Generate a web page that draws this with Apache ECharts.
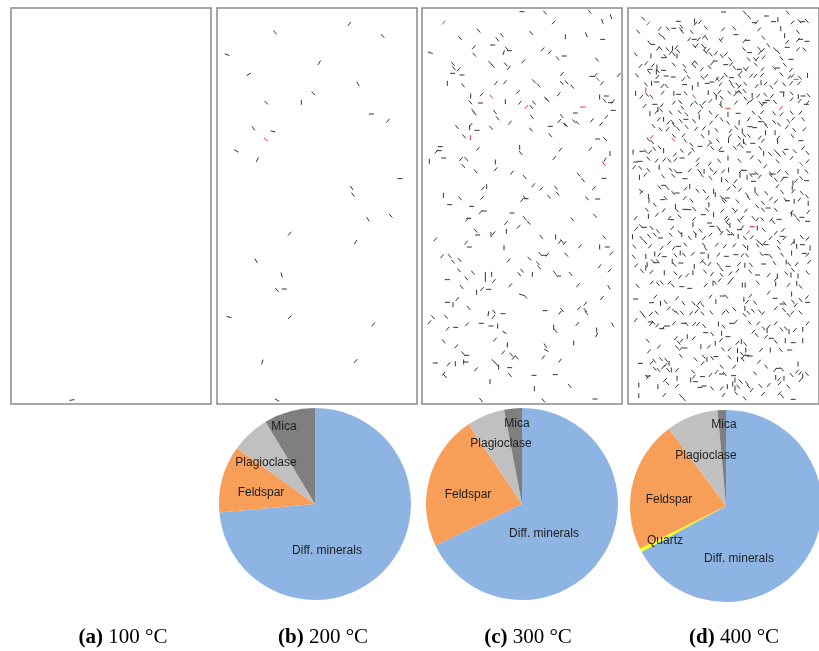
<!DOCTYPE html>
<html><head><meta charset="utf-8">
<script src="https://cdn.jsdelivr.net/npm/echarts@6/dist/echarts.min.js"></script>
<style>html,body{margin:0;padding:0;background:#fff}#c{width:819px;height:651px}</style>
</head><body><div id="c"></div>
<script>
// Crack data per specimen panel: [x, y, orientation in degrees]; specimen units 0..600 x 0..1188 (y downward)
const cracksA = [[183,1176,10]];
const redA = [];
const cracksB = [[397,48,50],[174,73,-50],[497,84,-50],[30,140,-20],[307,164,60],[95,199,30],[423,228,-60],[289,256,-50],[148,284,-45],[253,283,90],[463,318,0],[513,338,50],[109,361,-55],[168,370,-15],[58,429,-30],[121,455,65],[549,512,0],[404,540,-55],[408,560,-55],[453,634,-55],[521,623,-45],[218,677,50],[416,702,55],[117,758,-60],[194,801,-75],[180,846,-50],[202,843,0],[36,927,-15],[218,928,45],[469,949,50],[136,1062,70],[416,1059,50],[180,1176,-30]];
const redB = [[147,395,-40]];
const cracksC = [[300,11,0],[369,14,-50],[503,11,-50],[395,43,50],[541,40,-70],[567,26,-70],[170,68,-50],[328,75,-50],[114,90,-50],[240,82,-50],[226,94,-50],[430,86,90],[493,80,-70],[542,94,0],[212,111,0],[254,122,-50],[245,134,70],[262,128,0],[155,118,50],[25,134,-20],[157,140,-50],[362,124,50],[383,133,50],[407,151,-50],[427,144,0],[525,155,-50],[304,160,50],[93,168,-50],[96,181,-50],[110,184,50],[205,165,-50],[213,174,-50],[251,169,-50],[260,180,50],[92,196,0],[120,201,0],[76,226,90],[123,232,-50],[222,225,50],[249,223,50],[336,220,-50],[350,232,-50],[420,198,50],[419,225,-50],[434,223,-50],[451,236,-50],[510,205,0],[521,201,50],[590,201,50],[540,226,50],[146,264,90],[179,259,50],[288,252,50],[250,281,90],[145,283,-50],[175,285,0],[294,284,50],[328,297,-50],[336,284,-50],[372,272,-50],[376,276,-50],[410,259,50],[533,267,90],[553,264,0],[548,278,-50],[566,284,0],[573,280,50],[574,307,0],[153,308,-50],[158,316,-50],[219,312,-50],[227,331,-50],[264,344,50],[330,327,-50],[385,355,0],[419,324,-50],[412,339,50],[428,350,-50],[432,351,-50],[460,315,0],[456,340,-50],[466,344,-50],[510,337,50],[553,327,50],[537,348,50],[105,357,-50],[146,351,50],[143,359,90],[165,367,0],[207,359,-50],[327,365,-50],[126,385,-50],[385,382,-50],[527,393,0],[549,393,-50],
[55,416,0],[52,428,0],[43,431,50],[168,422,50],[293,418,90],[296,435,-50],[415,425,50],[505,423,50],[564,437,90],[22,460,90],[65,450,0],[117,453,50],[133,453,-50],[220,462,90],[124,474,-50],[397,450,50],[549,455,60],[161,490,-50],[221,484,50],[270,494,50],[308,507,-50],[470,500,-50],[483,516,-50],[546,511,0],[64,562,90],[183,541,50],[194,536,90],[334,532,50],[358,542,50],[402,539,-50],[407,557,-50],[381,566,-50],[516,540,50],[114,571,-50],[181,569,50],[300,576,50],[308,568,-50],[312,572,0],[83,590,0],[149,595,0],[495,571,-50],[527,573,0],[176,612,50],[187,609,0],[270,615,0],[135,635,50],[140,631,0],[308,630,-50],[320,644,-50],[252,645,50],[290,656,50],[451,634,-50],[519,623,-50],[161,668,-50],[167,681,0],[207,680,90],[215,676,50],[253,670,90],[40,694,50],[132,704,50],[142,717,0],[246,719,90],[358,687,-50],[401,687,90],[413,702,50],[420,700,-50],[428,705,50],[474,715,50],[533,717,90],[547,688,-50],[556,717,0],[568,736,50],[60,745,50],[83,744,-50],[93,761,-50],[113,756,-50],[260,757,50],[322,752,-50],[355,738,-50],[368,742,0],[376,740,50],[348,766,-50],[351,778,-50],[433,740,-50],[533,775,50],[563,787,50],[111,787,-50],[300,788,-50],
[153,794,-50],[133,811,-50],[190,800,90],[209,799,90],[190,814,90],[216,819,50],[292,799,-50],[331,799,90],[398,794,-50],[410,804,0],[446,798,-50],[76,815,0],[119,837,-50],[164,853,90],[180,843,50],[200,844,0],[265,832,50],[298,860,-20],[310,866,-50],[468,832,50],[561,838,-60],[76,883,0],[93,890,90],[106,873,50],[140,900,-50],[199,917,80],[216,911,-50],[214,927,50],[243,917,0],[369,908,0],[414,914,50],[420,906,-50],[471,901,50],[490,887,50],[490,906,-50],[493,915,-50],[540,870,50],[22,943,50],[33,928,-50],[72,926,-50],[77,962,50],[101,958,0],[135,949,50],[178,946,0],[207,954,0],[227,954,90],[247,973,-30],[395,958,90],[401,969,-50],[466,948,50],[524,966,90],[524,981,60],[572,950,-60],[65,1000,-50],[103,1015,50],[219,995,50],[256,1011,90],[370,1013,-60],[373,1027,-30],[455,1005,90],[123,1036,-50],[134,1042,0],[244,1033,50],[268,1040,-50],[275,1049,50],[284,1048,-50],[364,1048,50],[414,1058,50],[40,1065,0],[80,1068,50],[100,1067,90],[125,1062,90],[132,1062,0],[215,1060,-50],[224,1069,-50],[230,1078,90],[162,1084,50],[263,1079,0],[65,1097,50],[69,1104,-50],[264,1101,-50],[336,1102,0],[400,1100,0],[204,1121,90],[337,1142,90],[443,1134,-50],[177,1176,-50],[364,1177,-50],[519,1173,0]];
const redC = [[65,44,50],[528,214,-50],[208,266,-50],[313,297,50],[482,297,0],[145,389,90],[545,467,-50]];
const cracksD = [[300,12,0],[367,14,-50],[380,27,-50],[435,24,0],[471,35,90],[502,14,-50],[48,32,-50],[158,40,0],[209,39,90],[212,47,50],[226,42,50],[168,56,-50],[166,64,-50],[397,44,0],[404,43,50],[457,41,0],[517,43,50],[539,40,-50],[549,41,0],[562,39,-50],[32,71,-50],[100,62,50],[125,62,-50],[144,61,0],[170,71,-50],[200,72,-50],[244,59,-50],[299,64,50],[334,61,-50],[339,80,0],[412,64,50],[480,62,90],[534,72,-50],[101,80,-50],[112,89,-50],[192,94,50],[208,94,0],[222,94,50],[239,86,50],[246,90,-50],[290,97,-50],[294,94,50],[366,99,50],[376,97,0],[425,89,-50],[492,83,90],[500,102,50],[534,96,50],[542,94,0],[562,100,0],[67,104,-50],[78,109,0],[94,122,50],[102,121,-50],[124,124,-50],[140,121,90],[152,118,50],[158,129,-50],[134,134,50],[144,139,-50],[154,144,90],[117,144,-50],[111,149,0],[72,144,90],[24,139,-50],[208,114,-50],[216,112,50],[236,114,-50],[241,122,50],[244,132,-50],[252,127,50],[260,139,-50],[276,136,50],[294,144,-50],[307,139,50],[321,154,-50],[365,124,-50],[382,134,0],[412,122,-50],[414,134,50],[424,126,50],[441,112,-50],[462,124,-50],[472,132,-50],[500,118,0],[534,124,50],[554,124,-50],[379,154,-50],[399,154,-50],[406,152,50],[426,148,50],[482,151,-50],[512,154,0],[39,174,50],[57,166,50],[69,184,0],[66,192,-50],[78,172,50],[91,177,90],[89,192,90],[94,189,-50],[112,187,0],[120,204,0],[144,170,-50],[177,174,-50],[180,189,-50],[205,164,50],[208,174,-50],[214,164,-50],[232,184,50],[256,177,-50],[264,166,50],[274,159,0],[307,170,0],[324,169,50],[334,179,-50],[350,184,0],[354,194,50],[367,184,-50],[374,182,50],[401,169,-50],[422,184,50],[459,180,-50],[470,180,0],[492,170,-50],[512,186,50],[28,202,-50],[92,207,50],[142,207,0],[174,214,50],[190,207,-50],[234,209,-50],[246,204,50],[280,212,50],[296,209,50],[307,201,-50],[325,209,0],[350,204,-50],[387,203,50],[400,204,50],[421,201,50],[482,199,-50],[507,207,50],[517,204,50],[540,209,-50],[564,202,90],[56,229,-50],[74,226,90],[90,222,0],[108,234,50],[121,234,-50],[178,230,0],[202,239,90],[220,229,90],[249,226,0],[264,222,0],[282,214,-50],[290,229,50],[322,222,-50],[329,234,-50],[343,230,-50],[350,236,50],[368,227,-50],[404,234,50],[418,224,90],[432,227,50],[450,237,-50],[464,224,50],[490,229,-50],[512,226,50],[537,226,50],[24,256,90],[42,266,50],[60,260,-50],[74,266,-50],[109,254,50],[144,256,90],[159,259,0],[181,256,-50],[252,254,90],[274,259,-50],[287,252,50],[277,268,90],[294,269,-50],[318,254,-50],[344,252,0],[337,259,50],[352,252,-50],[366,249,-50],[390,262,90],[409,264,50],[431,260,-50],[452,264,50],[484,252,0],[489,259,90],[514,256,-50],[535,266,90],[550,264,0],[567,262,-50],[52,294,50],[84,289,0],[106,292,50],[94,304,90],[144,284,50],[164,282,-50],[171,299,-50],[200,289,50],[214,284,-50],[230,294,-50],[239,284,50],[259,279,50],[292,286,90],[292,294,-50],[339,284,50],[369,272,-50],[378,284,50],[389,276,50],[416,286,-50],[424,290,50],[429,284,0],[438,277,0],[462,282,-50],[514,274,50],[539,279,50],[564,284,50],[560,289,0],[69,317,90],[89,312,50],[104,307,-50],[134,314,-50],[162,312,-50],[184,319,-50],[224,312,50],[259,314,-50],[314,319,90],[346,316,0],[394,314,-50],[422,312,50],[459,316,-50],[482,319,50],[514,314,-50],[542,314,50],[80,354,-50],[97,334,50],[112,334,90],[127,344,50],[140,342,-50],[144,351,-50],[166,339,-50],[182,334,0],[207,339,-50],[224,327,90],[261,344,50],[279,324,50],[294,334,-50],[314,344,-50],[349,344,90],[379,334,50],[414,329,-50],[416,341,0],[430,346,-50],[434,354,-50],[459,342,-50],[474,349,-50],[504,339,-50],[519,332,50],[550,334,-50],[102,364,-50],[124,364,50],[157,362,-50],[184,357,-50],[214,362,50],[238,361,50],[278,366,-50],[322,369,50],[340,359,-50],[359,369,90],[383,356,0],[398,359,0],[432,374,90],[462,374,90],[499,357,50],[522,366,-50],[554,364,50],[144,384,-50],[174,382,50],[234,384,-50],[254,374,90],[320,384,50],[350,389,-50],[365,382,-50],[380,384,-50],[414,389,50],[472,389,50],[516,384,-50],
[64,395,-50],[76,402,-50],[180,398,-50],[199,410,-50],[259,402,-50],[282,398,-50],[316,398,90],[348,410,50],[363,400,90],[366,405,-50],[392,406,0],[424,398,50],[470,400,90],[543,398,0],[16,432,90],[44,430,0],[56,430,-50],[69,432,50],[82,422,-50],[99,418,-50],[112,428,90],[147,440,50],[169,428,-50],[194,436,50],[204,425,-50],[226,415,0],[254,410,50],[264,420,-50],[294,430,0],[290,422,50],[336,420,-50],[357,415,-50],[379,432,0],[415,420,-50],[426,436,90],[446,438,-50],[464,430,-50],[474,440,-50],[490,435,-50],[497,424,0],[524,430,-50],[550,420,50],[564,435,-50],[24,462,0],[38,460,0],[64,452,-50],[90,458,50],[114,455,50],[130,458,-50],[149,455,50],[170,450,0],[219,455,50],[218,470,50],[257,468,50],[286,458,-50],[314,450,90],[350,458,-50],[389,448,50],[414,460,-50],[431,475,50],[470,460,-50],[514,450,50],[564,460,50],[19,478,50],[39,480,-50],[64,486,-50],[98,478,90],[134,485,-50],[150,490,-50],[162,494,0],[194,487,50],[224,490,-50],[239,490,90],[262,485,-50],[274,494,50],[299,490,50],[316,486,90],[354,490,50],[366,487,0],[386,502,-50],[394,498,0],[404,496,-50],[449,496,-50],[456,498,0],[474,490,50],[499,495,-50],[534,490,90],[561,490,-50],[36,508,90],[54,500,50],[110,505,-50],[142,503,-50],[179,512,0],[232,502,-50],[259,510,-50],[294,515,90],[310,518,-50],[338,520,50],[352,502,90],[374,508,90],[394,520,0],[414,506,50],[448,502,-50],[464,515,-50],[484,515,50],[494,508,0],[518,525,90],[528,518,50],[544,510,-50],[561,518,0],[40,548,-50],[42,553,50],[64,565,90],[99,538,-50],[112,532,0],[124,540,-50],[142,555,-50],[154,555,0],[181,542,50],[194,535,90],[218,548,-50],[240,550,-50],[269,550,90],[274,560,90],[316,542,50],[334,535,-50],[352,545,50],[374,560,-50],[379,570,-50],[399,545,90],[404,558,-50],[434,555,-50],[469,535,50],[484,552,-50],[516,540,90],[519,550,50],[546,555,-50],[66,578,90],[84,590,-50],[109,575,0],[118,570,-50],[178,570,50],[200,578,-50],[249,570,50],[254,590,90],[294,568,-50],[304,575,-50],[312,570,0],[300,580,-50],[344,580,-50],[406,595,-50],[424,585,-50],[449,572,50],[464,580,50],[494,575,-50],[501,578,0],[522,580,90],[538,575,50],[562,565,-50],[566,586,90],[59,605,-50],[112,607,50],[149,596,90],[154,607,-50],[179,604,0],[192,605,0],[208,603,-50],[248,605,-50],[269,620,90],[296,608,50],[332,605,-50],[339,610,50],[370,608,50],[424,605,-50],[440,600,0],[464,605,-50],[514,612,50],[524,622,-50],[546,628,0],[566,612,50],[24,630,50],[64,625,90],[91,620,50],[130,630,50],[137,635,0],[162,625,-50],[207,633,50],[237,620,0],[308,630,50],[314,636,50],[312,646,-50],[320,652,90],[349,638,-50],[358,630,50],[394,630,-50],[406,634,50],[422,634,-50],[450,635,50],[457,642,-50],[474,634,0],[487,666,50],[514,618,90],[534,635,-50],[564,640,0],[41,655,-50],[26,662,50],[52,658,0],[74,660,-50],[94,670,-50],[139,660,50],[162,673,-50],[169,680,90],[204,650,90],[210,675,-50],[228,668,-50],[256,645,0],[264,655,0],[284,660,-50],[289,668,-50],[294,675,50],[314,668,-50],[350,665,0],[359,658,50],[406,660,90],[426,665,-50],[464,675,50],[484,685,0],[14,686,90],[42,690,-50],[66,684,-50],[84,680,-50],[102,690,0],[134,680,-50],[194,690,-50],[213,682,90],[239,690,50],[259,680,50],[320,680,0],[329,678,-50],[346,685,90],[367,690,-50],[389,688,50],[408,700,-50],[418,708,-50],[428,705,50],[448,690,50],[474,702,-50],[492,690,50],[522,700,90],[546,687,-50],[564,692,50],[20,716,-50],[54,702,-50],[69,715,50],[106,720,50],[129,705,50],[144,720,50],[159,715,0],[180,710,-50],[238,710,-50],[244,722,-50],[279,710,50],[304,715,50],[334,712,50],[366,715,-50],[376,720,90],[407,712,-50],[434,710,0],[474,720,-50],[517,705,50],[530,715,90],[548,710,0],[572,720,90],[18,746,-50],[56,745,90],[84,738,90],[98,740,50],[114,746,0],[149,742,-50],[164,735,90],[176,740,-50],[204,737,50],[234,735,0],[252,745,90],[284,740,50],[309,745,0],[339,740,0],[359,742,50],[374,742,-50],[419,738,-50],[434,740,0],[448,745,-50],[484,740,-50],[514,735,90],[554,736,0],[564,740,50],[26,772,50],[60,770,90],[78,760,-50],[88,764,0],[94,760,-50],[139,760,90],[146,770,-50],[166,765,0],[208,775,90],[232,760,50],[240,765,-50],[256,768,50],[284,770,-50],[314,775,0],[349,768,50],[367,772,90],[386,770,-50],[426,768,0],[460,765,-50],[497,762,90],[506,768,-50],[530,768,50],[569,762,50],[56,780,90],[294,784,-50],[344,788,50],[518,786,-50],
[44,789,-50],[74,792,50],[114,794,90],[149,796,-50],[164,806,50],[186,802,50],[204,794,90],[242,791,-50],[264,798,50],[294,801,-50],[322,796,50],[384,791,-50],[407,801,0],[442,801,50],[469,804,90],[497,796,-50],[512,801,90],[534,804,90],[564,794,-50],[30,834,-50],[74,824,50],[94,828,-50],[106,824,-50],[130,824,50],[140,832,-50],[169,836,0],[194,841,0],[244,832,50],[267,826,90],[274,824,-50],[288,816,50],[318,824,50],[326,814,50],[359,831,90],[368,831,90],[408,824,-50],[464,814,50],[464,828,90],[504,831,50],[530,826,90],[542,836,-50],[24,873,0],[74,884,0],[86,866,50],[102,886,90],[118,882,-50],[154,871,50],[174,886,-50],[206,886,-50],[224,884,50],[234,891,-50],[259,866,50],[276,881,90],[296,864,0],[309,866,-50],[384,864,50],[364,874,90],[374,882,50],[399,884,-50],[442,854,50],[462,871,0],[484,888,0],[492,886,-50],[514,858,90],[518,881,-50],[527,891,50],[542,876,-50],[562,868,50],[564,883,0],[42,914,-50],[72,918,50],[90,914,-50],[128,901,50],[144,908,-50],[154,914,-50],[169,914,-50],[198,916,50],[215,910,50],[219,896,-50],[234,916,-50],[262,914,-50],[300,914,50],[312,910,-50],[334,904,-50],[367,901,90],[366,921,-50],[378,914,-50],[392,908,-50],[414,910,-50],[424,916,50],[464,901,50],[490,906,-50],[504,921,-50],[516,914,50],[542,914,-50],[24,936,50],[50,924,-50],[70,942,0],[72,948,50],[80,944,-50],[92,952,50],[106,962,0],[112,958,50],[124,954,0],[144,946,50],[174,946,0],[184,948,-50],[208,948,50],[220,948,50],[239,954,-50],[284,948,90],[300,956,-50],[326,946,0],[339,941,50],[382,944,-50],[409,946,50],[426,961,-50],[442,956,50],[464,946,50],[482,964,-50],[496,961,-50],[506,971,90],[524,966,50],[549,964,90],[564,946,50],[62,998,-50],[97,1016,50],[150,991,50],[159,1004,-50],[168,998,50],[186,986,90],[206,991,50],[244,974,0],[264,978,-50],[294,976,90],[292,996,50],[314,986,0],[344,1004,50],[356,1001,90],[368,1008,-50],[394,971,50],[404,981,-50],[437,968,90],[434,986,50],[450,991,0],[464,1001,-50],[494,998,90],[519,1004,0],[549,998,90],[154,1018,-50],[166,1022,50],[179,1020,0],[229,1016,90],[254,1016,50],[274,1006,90],[298,1024,-50],[319,1024,50],[344,1028,90],[370,1026,90],[374,1042,0],[358,1038,-50],[361,1048,50],[384,1044,0],[418,1026,50],[447,1026,90],[480,1026,-50],[508,1026,0],[66,1030,50],[39,1066,0],[74,1064,50],[82,1058,-50],[104,1054,-50],[120,1056,-50],[118,1071,50],[129,1066,90],[166,1044,-50],[212,1054,-50],[238,1046,-50],[234,1066,50],[248,1054,90],[264,1050,-50],[276,1046,0],[294,1076,-50],[319,1048,-50],[334,1076,50],[344,1054,90],[360,1054,-50],[412,1061,50],[434,1076,-50],[462,1086,50],[472,1081,0],[484,1084,-50],[534,1068,90],[540,1096,50],[562,1098,-50],[84,1082,-50],[96,1086,-50],[110,1078,50],[126,1086,-50],[136,1086,90],[154,1086,50],[59,1106,-50],[62,1108,50],[64,1104,0],[116,1116,50],[124,1126,-50],[154,1111,90],[154,1134,50],[204,1091,-50],[207,1106,50],[234,1106,0],[259,1101,50],[278,1092,50],[294,1098,0],[304,1098,-50],[332,1103,0],[336,1116,90],[354,1121,-50],[374,1126,-50],[399,1096,-50],[464,1108,90],[474,1114,50],[490,1111,90],[514,1101,-50],[531,1091,50],[549,1104,90],[34,1131,90],[94,1136,90],[197,1116,90],[212,1121,0],[226,1138,0],[239,1134,0],[264,1141,-50],[294,1141,50],[312,1136,90],[329,1128,90],[336,1141,90],[346,1136,-50],[379,1136,-50],[389,1146,50],[416,1134,-50],[442,1131,50],[476,1126,50],[504,1136,-50],[542,1116,50],[34,1163,90],[114,1161,50],[166,1164,-50],[176,1174,-50],[300,1161,50],[340,1156,-50],[366,1171,-50],[424,1158,50],[476,1156,50],[484,1164,-50],[519,1174,0]];
const redD = [[64,46,50],[528,214,0],[56,246,90],[208,266,-50],[314,301,0],[480,300,50],[74,387,50],[142,395,-50],[544,468,-50],[377,673,50],[390,656,0],[372,1042,-50]];

// Pie data
const pieNamesB = ['Diff. minerals','Feldspar','Plagioclase','Mica'];
const pieValuesB = [73.6, 11.3, 6.5, 8.6];
const pieNamesC = ['Diff. minerals','Feldspar','Plagioclase','Mica'];
const pieValuesC = [67.9, 22.7, 6.4, 3.0];
const pieNamesD = ['Diff. minerals','Quartz','Feldspar','Plagioclase','Mica'];
const pieValuesD = [67.1, 0.6, 22.2, 8.7, 1.4];

// Captions
const captionTags = ['(a)','(b)','(c)','(d)'];
const captionTemps = ['100 °C','200 °C','300 °C','400 °C'];

// ---------- styling / layout ----------
const colorMap = {'Diff. minerals':'#8db4e2','Quartz':'#ffff00','Feldspar':'#f79e59','Plagioclase':'#c0c0c0','Mica':'#7f7f7f'};
const panelLefts = [11, 217, 422, 628];
const panelTop = 8, panelW = 200, panelH = 396;
const captionX = [118, 318, 523, 729];
const pieCenters = [[315,504],[522,504],[726,506]];
const pieR = 96;
// label offsets from pie center (px), keyed by name
const labelOffsets = [
  {'Mica':[-31,-77],'Plagioclase':[-49,-41],'Feldspar':[-54,-11],'Diff. minerals':[12,47]},
  {'Mica':[-5,-80],'Plagioclase':[-21,-60],'Feldspar':[-54,-9],'Diff. minerals':[22,30]},
  {'Mica':[-2,-81],'Plagioclase':[-20,-50],'Feldspar':[-57,-6],'Quartz':[-61,35],'Diff. minerals':[13,53]}
];

const chart = echarts.init(document.getElementById('c'), null, {renderer:'canvas'});

const grids = [], xAxes = [], yAxes = [], series = [];
const crackSets = [[cracksA, redA],[cracksB, redB],[cracksC, redC],[cracksD, redD]];
panelLefts.forEach((l, i) => {
  grids.push({left:l, top:panelTop, width:panelW, height:panelH, show:true, borderColor:'#8a8a8a', borderWidth:1.5, backgroundColor:'#fff'});
  xAxes.push({gridIndex:i, type:'value', min:0, max:600, show:false});
  yAxes.push({gridIndex:i, type:'value', min:0, max:1188, inverse:true, show:false});
  [[crackSets[i][0], '#333333'], [crackSets[i][1], '#f03030']].forEach(([arr, col]) => {
    series.push({
      type:'custom', xAxisIndex:i, yAxisIndex:i, silent:true, clip:true,
      data: arr, encode:{x:0, y:1},
      renderItem: function(params, api){
        const p = api.coord([api.value(0), api.value(1)]);
        const a = api.value(2) * Math.PI / 180;
        const h = 2.5;
        return {type:'line', shape:{x1:p[0]-Math.cos(a)*h, y1:p[1]+Math.sin(a)*h, x2:p[0]+Math.cos(a)*h, y2:p[1]-Math.sin(a)*h},
          style:{stroke:col, lineWidth:1}};
      }
    });
  });
});

const pies = [[pieNamesB,pieValuesB],[pieNamesC,pieValuesC],[pieNamesD,pieValuesD]];
pies.forEach(([names, vals], k) => {
  series.push({
    type:'pie', center:pieCenters[k], radius:pieR, startAngle:90, clockwise:true, silent:true,
    animation:false,
    data: names.map((n, j) => ({name:n, value:vals[j], itemStyle:{color:colorMap[n]}})),
    itemStyle:{borderWidth:0},
    label:{show:true, position:'inside', formatter:'{b}', color:'#1e1e1e', fontSize:12, fontFamily:'Liberation Sans, Arial, sans-serif'},
    labelLine:{show:false},
    labelLayout: function(params){
      const c = pieCenters[k];
      const off = labelOffsets[k][names[params.dataIndex]];
      return {x: c[0] + off[0], y: c[1] + off[1], align:'center', verticalAlign:'middle'};
    }
  });
});

const titles = captionTags.map((t, i) => ({
  text: '{b|' + t + '} ' + captionTemps[i],
  left: captionX[i], top: 622, textAlign:'center',
  textStyle:{fontFamily:'Liberation Serif, Times New Roman, serif', fontSize:21, fontWeight:'normal', color:'#000',
    rich:{b:{fontFamily:'Liberation Serif, Times New Roman, serif', fontSize:21, fontWeight:'bold', color:'#000'}}}
}));

chart.setOption({
  animation:false,
  backgroundColor:'#fff',
  title: titles,
  grid: grids, xAxis: xAxes, yAxis: yAxes,
  series: series
});
</script></body></html>
